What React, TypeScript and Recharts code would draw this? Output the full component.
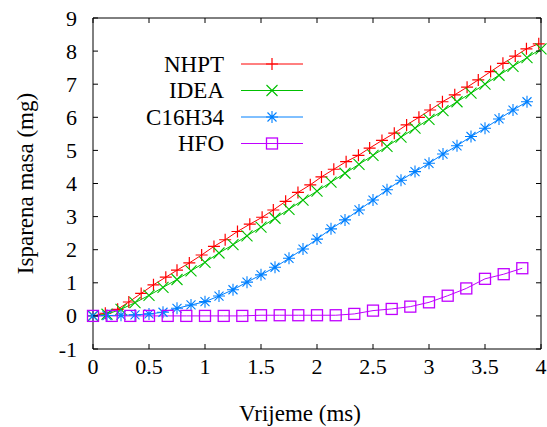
import React from 'react';
import { LineChart, Line, XAxis, YAxis, ReferenceArea, Legend } from 'recharts';

// ---- data ----
const nhptTime = [0, 0.11, 0.22, 0.32, 0.43, 0.54, 0.65, 0.75, 0.86, 0.97, 1.08, 1.18, 1.29, 1.4, 1.51, 1.61, 1.72, 1.83, 1.94, 2.04, 2.15, 2.26, 2.37, 2.47, 2.58, 2.69, 2.8, 2.91, 3.01, 3.12, 3.23, 3.34, 3.44, 3.55, 3.66, 3.77, 3.87, 3.98];
const nhptMass = [0, 0.08, 0.2, 0.42, 0.68, 0.94, 1.17, 1.38, 1.6, 1.84, 2.1, 2.3, 2.55, 2.77, 2.98, 3.2, 3.46, 3.73, 3.96, 4.2, 4.43, 4.66, 4.85, 5.07, 5.3, 5.52, 5.77, 6.0, 6.22, 6.47, 6.68, 6.91, 7.13, 7.38, 7.63, 7.85, 8.07, 8.22];

const ideaTime = [0, 0.125, 0.25, 0.375, 0.5, 0.625, 0.75, 0.875, 1.0, 1.125, 1.25, 1.375, 1.5, 1.625, 1.75, 1.875, 2.0, 2.125, 2.25, 2.375, 2.5, 2.625, 2.75, 2.875, 3.0, 3.125, 3.25, 3.375, 3.5, 3.625, 3.75, 3.875, 4.0];
const ideaMass = [0, 0.05, 0.2, 0.4, 0.62, 0.86, 1.1, 1.36, 1.62, 1.9, 2.15, 2.42, 2.68, 2.95, 3.22, 3.5, 3.77, 4.04, 4.31, 4.58, 4.85, 5.12, 5.4, 5.67, 5.94, 6.2, 6.47, 6.73, 7.0, 7.27, 7.54, 7.8, 8.07];

const c16Time = [0, 0.125, 0.25, 0.375, 0.5, 0.625, 0.75, 0.875, 1.0, 1.125, 1.25, 1.375, 1.5, 1.625, 1.75, 1.875, 2.0, 2.125, 2.25, 2.375, 2.5, 2.625, 2.75, 2.875, 3.0, 3.125, 3.25, 3.375, 3.5, 3.625, 3.75, 3.875];
const c16Mass = [0, 0.01, 0.02, 0.03, 0.06, 0.11, 0.23, 0.33, 0.43, 0.6, 0.79, 1.02, 1.24, 1.47, 1.74, 2.02, 2.32, 2.63, 2.9, 3.2, 3.5, 3.81, 4.1, 4.36, 4.61, 4.89, 5.14, 5.42, 5.67, 5.95, 6.22, 6.47];

const hfoTime = [0, 0.167, 0.333, 0.5, 0.667, 0.833, 1.0, 1.167, 1.333, 1.5, 1.667, 1.833, 2.0, 2.167, 2.333, 2.5, 2.667, 2.833, 3.0, 3.167, 3.333, 3.5, 3.667, 3.833];
const hfoMass = [0, 0, 0, 0, 0, 0, 0, 0, 0, 0.02, 0.02, 0.02, 0.02, 0.02, 0.06, 0.16, 0.21, 0.28, 0.41, 0.61, 0.83, 1.12, 1.26, 1.44];

const xTicks = [0, 0.5, 1, 1.5, 2, 2.5, 3, 3.5, 4];
const yTicks = [-1, 0, 1, 2, 3, 4, 5, 6, 7, 8, 9];

const zip = (t: number[], m: number[]) => t.map((x, i) => ({ t: x, m: m[i] }));

const SERIES = [
  { name: 'NHPT', color: '#ff0000', shape: 'plus', data: zip(nhptTime, nhptMass) },
  { name: 'IDEA', color: '#00c000', shape: 'cross', data: zip(ideaTime, ideaMass) },
  { name: 'C16H34', color: '#0080ff', shape: 'star', data: zip(c16Time, c16Mass) },
  { name: 'HFO', color: '#c000ff', shape: 'square', data: zip(hfoTime, hfoMass) },
];

const FONT = '"Liberation Serif", "DejaVu Serif", serif';
const PLOT_W = 448;
const PLOT_H = 331;

function Marker({ shape, cx, cy, color }: { shape: string; cx: number; cy: number; color: string }) {
  if (cx == null || cy == null || isNaN(cx) || isNaN(cy)) return null;
  const s = 6;
  const d = 5.5;
  if (shape === 'plus') {
    return (
      <path d={`M${cx - s},${cy}H${cx + s}M${cx},${cy - s}V${cy + s}`} stroke={color} strokeWidth={1.2} fill="none" />
    );
  }
  if (shape === 'cross') {
    return (
      <path d={`M${cx - d},${cy - d}L${cx + d},${cy + d}M${cx - d},${cy + d}L${cx + d},${cy - d}`} stroke={color} strokeWidth={1.1} fill="none" />
    );
  }
  if (shape === 'star') {
    const e = 4.5;
    return (
      <path
        d={`M${cx - s},${cy}H${cx + s}M${cx},${cy - s}V${cy + s}M${cx - e},${cy - e}L${cx + e},${cy + e}M${cx - e},${cy + e}L${cx + e},${cy - e}`}
        stroke={color}
        strokeWidth={1.1}
        fill="none"
      />
    );
  }
  return <rect x={cx - 5.5} y={cy - 5.5} width={11} height={11} stroke={color} strokeWidth={1.3} fill="none" />;
}

const makeDot = (shape: string, color: string) => (p: any) => (
  <Marker key={`d-${shape}-${p.index}`} shape={shape} cx={p.cx} cy={p.cy} color={color} />
);

const XTick = (props: any) => {
  const { x, y, payload } = props;
  return (
    <g>
      <line x1={x} x2={x} y1={y} y2={y - 5} stroke="#000" />
      <line x1={x} x2={x} y1={y - PLOT_H} y2={y - PLOT_H + 5} stroke="#000" />
      <text x={x} y={y + 25} textAnchor="middle" fontFamily={FONT} fontSize={22} fill="#000">
        {payload.value}
      </text>
    </g>
  );
};

const YTick = (props: any) => {
  const { x, y, payload } = props;
  return (
    <g>
      <line x1={x} x2={x + 5} y1={y} y2={y} stroke="#000" />
      <line x1={x + PLOT_W} x2={x + PLOT_W - 5} y1={y} y2={y} stroke="#000" />
      <text x={x - 16} y={y + 7.5} textAnchor="end" fontFamily={FONT} fontSize={22} fill="#000">
        {payload.value}
      </text>
    </g>
  );
};

const LegendContent = () => (
  <svg width={547} height={427} style={{ overflow: 'visible' }}>
    {SERIES.map((s, i) => {
      const cy = 64 + i * 26.5;
      return (
        <g key={s.name}>
          <text x={224} y={cy + 7.5} textAnchor="end" fontFamily={FONT} fontSize={23} fill="#000">
            {s.name}
          </text>
          <line x1={241} x2={303} y1={cy} y2={cy} stroke={s.color} strokeWidth={1} />
          <Marker shape={s.shape} cx={272} cy={cy} color={s.color} />
        </g>
      );
    })}
  </svg>
);

export default function App() {
  return (
    <div style={{ position: 'absolute', left: 0, top: 0, width: 547, height: 427, background: '#fff' }}>
      <LineChart width={547} height={427} margin={{ top: 18, right: 6, bottom: 0, left: 0 }}>
        <XAxis
          type="number"
          dataKey="t"
          domain={[0, 4]}
          ticks={xTicks}
          allowDuplicatedCategory={false}
          height={78}
          axisLine={false}
          tickLine={false}
          tickSize={0}
          tickMargin={0}
          tick={<XTick />}
          interval={0}
          label={{
            content: (p: any) => {
              const vb = p.viewBox || { x: 93, y: 349 };
              return (
                <text x={vb.x + 207} y={vb.y + 72} textAnchor="middle" fontFamily={FONT} fontSize={23} fill="#000">
                  Vrijeme (ms)
                </text>
              );
            },
          }}
        />
        <YAxis
          type="number"
          domain={[-1, 9]}
          ticks={yTicks}
          width={93}
          axisLine={false}
          tickLine={false}
          tickSize={0}
          tickMargin={0}
          tick={<YTick />}
          interval={0}
          label={{
            content: (p: any) => {
              const vb = p.viewBox || { x: 0, y: 18, height: 331 };
              const cx = vb.x + 33;
              const cy = vb.y + vb.height / 2;
              return (
                <text x={cx} y={cy} transform={`rotate(-90 ${cx} ${cy})`} textAnchor="middle" fontFamily={FONT} fontSize={23} fill="#000">
                  Isparena masa (mg)
                </text>
              );
            },
          }}
        />
        <ReferenceArea x1={0} x2={4} y1={-1} y2={9} fill="none" stroke="#000" strokeWidth={1} />
        {SERIES.map((s) => (
          <Line
            key={s.name}
            data={s.data}
            dataKey="m"
            name={s.name}
            type="linear"
            stroke={s.color}
            strokeWidth={1}
            dot={makeDot(s.shape, s.color)}
            activeDot={false}
            isAnimationActive={false}
          />
        ))}
        <Legend
          layout="horizontal"
          verticalAlign="middle"
          align="center"
          content={<LegendContent />}
          wrapperStyle={{ position: 'absolute', left: 0, top: 0, width: 547, height: 427, pointerEvents: 'none' }}
        />
      </LineChart>
    </div>
  );
}
